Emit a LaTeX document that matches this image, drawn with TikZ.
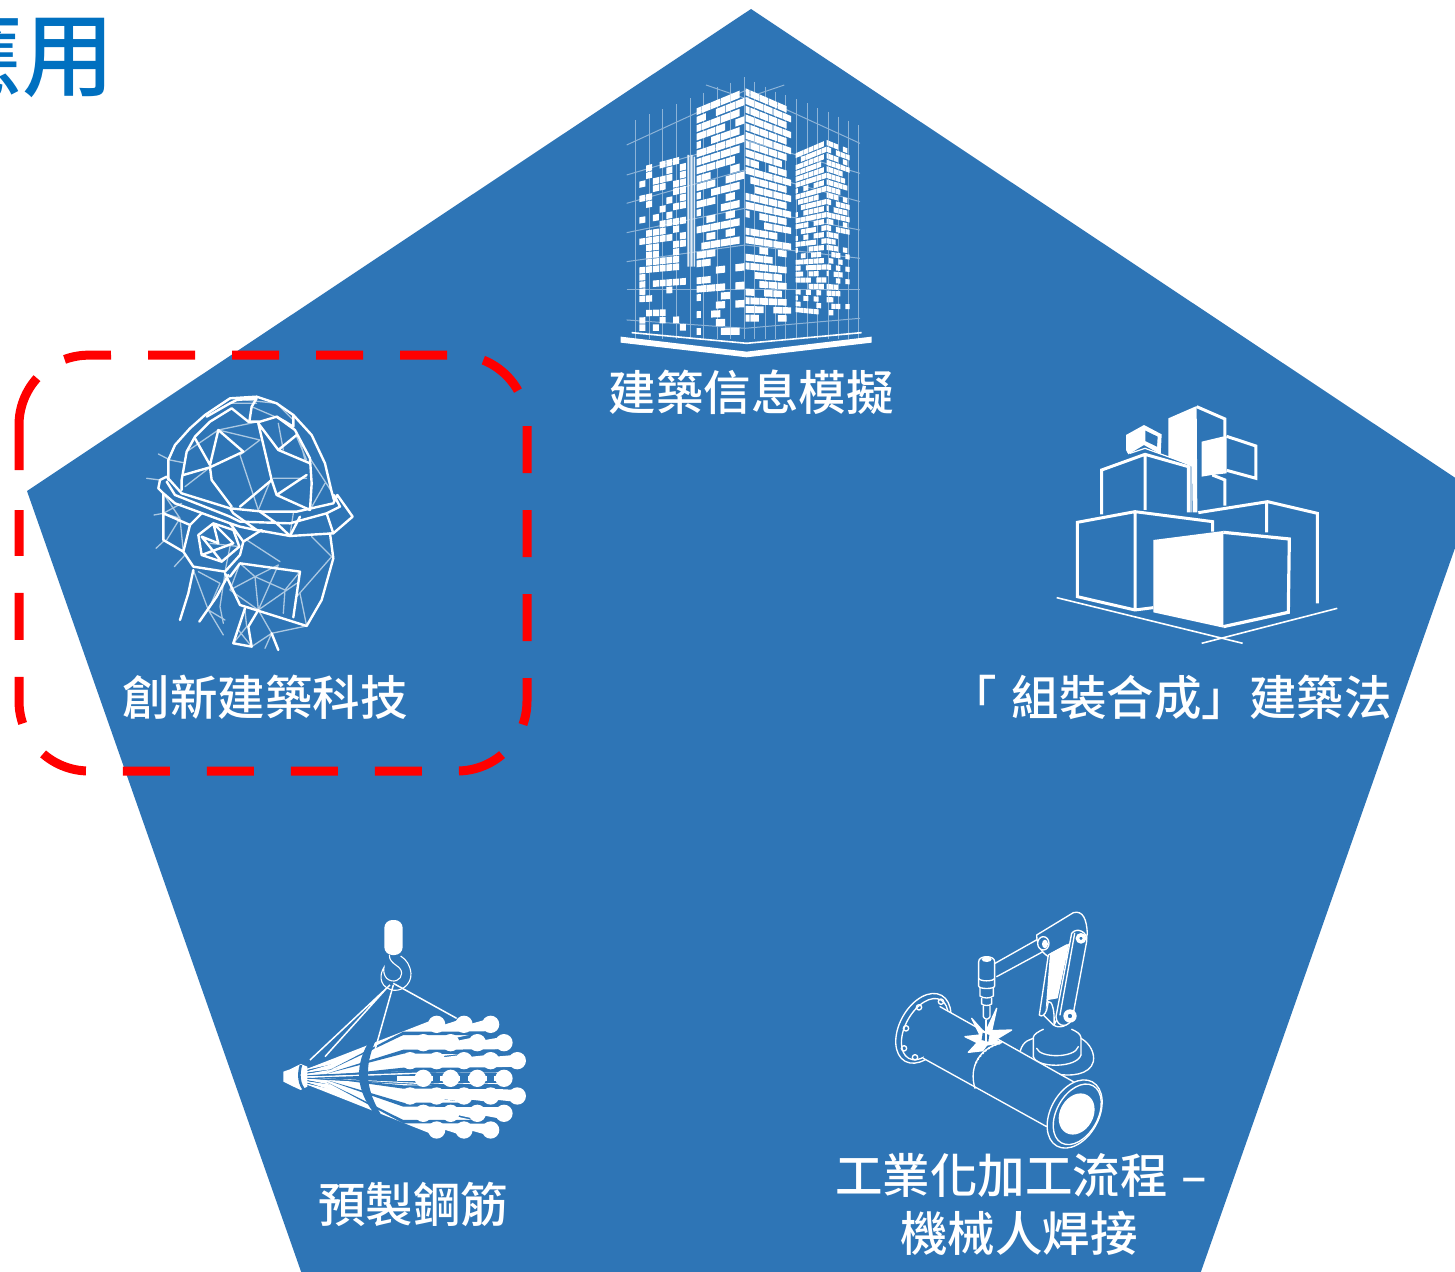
\documentclass[tikz,border=0pt]{standalone}
\usepackage{fontspec}
\newfontfamily\cjk{Noto Sans CJK TC Medium}
\newfontfamily\cjkm{Noto Sans CJK TC Medium}
\definecolor{penta}{RGB}{46,117,182}
\definecolor{titleblue}{RGB}{0,112,192}
\tikzset{
  lab/.style={text=white,font=\cjkm\fontsize{47.5}{50}\selectfont,inner sep=0pt,anchor=center},
  hm/.style={draw=white,line width=2.4pt,line join=round,line cap=round},
  hm2/.style={draw=white!60!penta,line width=1.3pt,line join=round,line cap=round},
  ln/.style={draw=white,line width=#1,line join=miter,line cap=butt},
  ln/.default=3pt,
  rb/.style={draw=white,line width=1.35pt,line join=round,line cap=round},
  gridl/.style={draw=white!45!penta,line width=1pt},
  redframe/.style={draw=red,line width=9pt}
}
\pgfmathsetseed{4711}
\def\wR{10}\def\wC{5}\def\wD{.8}\def\wE{.5}\def\wG{.05}\def\wH{.2}
\def\wface(#1,#2)(#3,#4)(#5,#6)(#7,#8){%
  \def\wpt##1##2{({(1-(##2))*((1-(##1))*#1+(##1)*#3)+(##2)*((1-(##1))*#5+(##1)*#7)},{(1-(##2))*((1-(##1))*#2+(##1)*#4)+(##2)*((1-(##1))*#6+(##1)*#8)})}%
  \foreach \r in {1,...,\wR}{%
    \pgfmathsetmacro\vA{(\r-1)/\wR}%
    \pgfmathsetmacro\vB{(\r-\wH)/\wR}%
    \pgfmathsetmacro\dd{\wD+(\wE-\wD)*\vA}%
    \pgfmathsetmacro\off{mod(\r,2)*\wO}%
    \foreach \c in {1,...,\wC}{%
      \pgfmathsetmacro\pp{rnd}%
      \ifdim\pp pt<\dd pt\relax
        \pgfmathsetmacro\uA{max(0,(\c-1-\off)/\wC)}%
        \pgfmathsetmacro\uB{min(1,(\c-\off-\wG)/\wC)}%
        \fill[white] \wpt{\uA}{\vA} -- \wpt{\uB}{\vA} -- \wpt{\uB}{\vB} -- \wpt{\uA}{\vB} -- cycle;%
      \fi
    }%
  }%
}
\begin{document}
\begin{tikzpicture}[x=1pt,y=-1pt]
\useasboundingbox (0,0) rectangle (1455,1271);
\fill[white] (0,0) rectangle (1455,1271);
\clip (0,0) rectangle (1455,1271);
% pentagon
\fill[penta] (751,9) -- (1475,491) -- (1194.5,1290) -- (307.5,1290) -- (27,491) -- cycle;
% title fragment
\node[text=titleblue,font=\cjk\fontsize{92}{96}\selectfont,inner sep=0pt,anchor=east] (title) at (115,54) {應用};
% ---------- building icon
\begin{scope}[shift={(600,60)},x=.3333pt,y=-.3333pt]
  \foreach \xx/\yt in {107/180,148/162,188/148,230/132,270/115,312/98,353/82,393/68,435/52,465/65,497/80,528/95,558/105,590/118,622/130,653/145,685/155,715/170,745/182,777/195}
    \draw[gridl] (\xx,\yt) -- (\xx,838);
  \foreach \ya/\yb in {255/92,345/240,430/330,518/445,605/555,690/690,780/805}
    \draw[gridl] (80,\ya) -- (435,\yb);
  \foreach \ya/\yb in {250/92,340/240,425/330,510/445,595/555,690/690,775/805}
    \draw[gridl] (780,\ya) -- (435,\yb);
  \draw[gridl] (318,75) -- (435,115) -- (553,75);
  \fill[white!85!penta] (262,285) rectangle (268,620) (272,285) rectangle (278,620) (281,290) rectangle (285,620);
  \pgfmathsetseed{4711}
  \def\wO{0}\def\wG{.12}\def\wH{.12}
  \def\wR{23}\def\wC{7}\def\wD{.68}\def\wE{.42}
  \wface(118,322)(260,285)(118,815)(260,815)
  \def\wO{.5}\def\wG{.06}\def\wH{.2}
  \def\wR{27}\def\wC{5}\def\wD{.95}\def\wE{.38}
  \wface(290,145)(435,85)(290,830)(435,830)
  \def\wR{27}\def\wC{5}\def\wD{.95}\def\wE{.75}
  \wface(437,85)(575,145)(437,790)(575,790)
  \def\wR{27}\def\wC{6}\def\wD{.95}\def\wE{.65}
  \wface(587,280)(680,240)(587,760)(680,770)
  \def\wR{27}\def\wC{5}\def\wD{.95}\def\wE{.6}
  \wface(680,240)(750,268)(680,770)(750,770)
  \draw[white,line width=1.6pt] (95,818) -- (440,850) -- (785,818);
  \fill[white] (62,830) -- (440,875) -- (815,830) -- (815,848) -- (440,892) -- (62,848) -- cycle;
\end{scope}
\node[lab] (l1) at (751,392) {建築信息模擬};
% ---------- helmet icon
\begin{scope}[shift={(130,380)},x=.3333pt,y=-.3333pt]
  % thin lines
  \draw[hm2] (85,222)--(120,240)--(160,248) (50,295)--(90,300) (72,405)--(100,400) (78,505)--(105,480) (133,560)--(165,525);
  \draw[hm2] (170,215)--(265,150)--(390,180)--(330,225)--(385,390) (265,150)--(385,125) (165,320)--(240,262);
  \draw[hm2] (385,390)--(420,305) (345,60)--(440,70)--(490,120) (365,80)--(470,125) (300,70)--(380,70);
  \draw[hm2] (445,130)--(460,210) (500,170)--(530,240) (540,235)--(605,335) (510,180)--(525,240) (540,390)--(585,310) (430,295)--(530,295);
  \draw[hm2] (100,400)--(150,415)--(110,480) (150,415)--(160,515) (100,340)--(150,415) (155,370)--(100,400);
  \draw[hm2] (350,480)--(450,545) (545,470)--(605,530)--(500,650);
  \draw[hm2] (330,550)--(300,630)--(375,590)--(385,690) (375,590)--(445,555)--(385,690) (330,550)--(375,590)--(465,630)--(510,575) (300,630)--(385,690) (385,690)--(500,610) (465,630)--(460,700) (510,640)--(530,738);
  \draw[hm2] (190,570)--(235,690)--(280,765) (205,575)--(270,610)--(235,690) (285,580)--(270,680)--(280,730) (235,690)--(285,720);
  \draw[hm2] (345,690)--(350,740)--(310,790) (325,750)--(365,800) (385,690)--(425,760)--(530,738) (425,760)--(365,800) (425,760)--(405,805) (240,490)--(330,500) (285,575)--(300,500);
  \draw[hm2] (590,400)--(610,460) (490,400)--(480,465);
  % main lines
  \draw[hm] (115,300)--(115,240)--(135,195)--(180,145)--(225,105)--(300,55)--(380,50)--(440,70)--(490,105)--(545,165)--(585,250)--(605,335)--(612,360);
  \draw[hm] (155,330)--(155,300)--(170,215)--(195,170)--(240,125)--(305,85)--(355,125)--(390,125)--(440,110)--(495,150)--(540,235)--(545,310)--(540,390);
  \draw[hm] (230,110)--(300,70)--(320,60)--(380,55)--(365,80)--(358,125) (440,110)--(490,140)--(490,105);
  \draw[hm] (195,175)--(240,255)--(265,150)--(340,215)--(240,262)--(160,285) (240,262)--(245,300)--(305,380) (385,130)--(425,300)--(330,380) (425,300)--(440,345)--(540,390) (440,345)--(530,285) (385,130)--(445,210)--(500,165) (445,210)--(540,250);
  \draw[hm] (110,290)--(90,300)--(85,325)--(100,340)--(135,370)--(300,430)--(330,440)--(400,455) (110,290)--(155,340)--(300,385)--(400,395)--(500,395)--(610,370)--(622,345)--(668,410)--(610,460)--(480,468)--(380,450)--(310,400)--(300,385);
  \draw[hm] (110,305)--(135,345)--(300,410)--(330,425)--(480,430)--(590,400)--(630,380)--(612,345) (390,395)--(440,430)--(480,468)--(510,410) (590,400)--(610,460);
  \draw[hm] (100,340)--(100,480)--(160,515)--(190,560)--(285,575)--(330,525)--(340,485)--(395,450) (100,400)--(180,435)--(160,515) (180,435)--(215,400) (300,430)--(340,485);
  \draw[hm] (205,465)--(250,430)--(310,450)--(328,500)--(275,545)--(215,525)--cycle (215,470)--(275,545) (215,525)--(310,490)--(250,430)--(265,490)--(215,470);
  \draw[hm] (285,580)--(330,675)--(530,738)--(575,660)--(610,535)--(600,460) (330,550)--(510,575)--(490,712) (330,550)--(300,590);
  \draw[hm] (190,570)--(175,640)--(150,720) (295,585)--(260,650)--(208,725) (345,685)--(310,790)--(365,800)--(355,740)--(385,690) (425,760)--(445,810);
\end{scope}
\node[lab] (l2) at (265,697) {創新建築科技};
% ---------- cubes icon
\begin{scope}[shift={(1040,395)},x=.3333pt,y=-.3333pt]
  \draw[white,line width=1.6pt] (50,608)--(608,745) (485,745)--(892,640);
  \fill[white] (385,70)--(470,33)--(472,352)--(458,352)--(456,215)--(385,185)--cycle;
  \draw[ln=3pt] (470,35)--(555,72)--(555,125) (517,240)--(555,255)--(555,332);
  \fill[white] (485,140)--(560,122)--(560,235)--(515,240)--(485,245)--cycle;
  \draw[ln=3pt] (560,124)--(648,153)--(648,250)--(560,226);
  \fill[white] (258,120)--(312,90)--(365,118)--(362,178)--(312,150)--(265,178)--(258,165)--cycle;
  \fill[penta] (316,107)--(353,125)--(351,155)--(316,138)--cycle;
  \draw[ln=3pt] (185,358)--(185,225)--(315,178)--(445,215)--(445,352) (315,178)--(315,345);
  \draw[ln=1.2pt] (270,175)--(315,160)--(453,210)--(453,352);
  \draw[ln=3pt] (518,410)--(518,380)--(285,350)--(112,382)--(112,605)--(285,645)--(340,638) (285,350)--(285,645);
  \draw[ln=3pt] (475,353)--(683,320)--(832,355)--(832,625) (680,322)--(680,412);
  \fill[white] (340,435)--(550,408)--(550,698)--(340,652)--cycle;
  \draw[ln=3.2pt] (550,412)--(748,432)--(745,652)--(550,695);
\end{scope}
\node[lab,anchor=east] (l3) at (1392,697) {「\hspace{15pt}組裝合成」建築法};
% ---------- rebar icon
\begin{scope}[shift={(270,910)},x=.3333pt,y=-.3333pt]
  \foreach \cx/\cy in {500/343,582/343,662/343,460/398,542/398,622/398,702/398,420/452,500/452,582/452,662/452,742/452,460/505,542/505,622/505,702/505,420/558,500/558,582/558,662/558,742/558,460/610,542/610,622/610,702/610,500/660,582/660,662/660}{
    \pgfmathsetmacro\ap{500+(\cy-500)*.14}
    \fill[white] (110,\ap-1) -- (\cx,\cy-18) -- (\cx,\cy+18) -- (110,\ap+1) -- cycle;
  }
  % gaps between the rows of bars
  \foreach \gy/\gh in {370/6,425/7,478/6,531/6,584/7,635/6}{
    \pgfmathsetmacro\ap{500+(\gy-500)*.12}
    \fill[penta] (170,\ap) -- (400,\gy-\gh+1) -- (760,\gy-\gh) -- (760,\gy+\gh) -- (400,\gy+\gh-1) -- cycle;
  }
  \fill[penta] (130,503) -- (440,492) -- (440,518) -- cycle;
  \fill[penta] (470,490) rectangle (760,520);
  \foreach \cx/\cy in {460/505,542/505,622/505,702/505}
    \fill[white] (\cx-80,\cy-8) rectangle (\cx,\cy+8);
  \foreach \gx/\gy in {500/505,582/505,662/505}
    \fill[penta] (\gx-11,\gy-13) rectangle (\gx+11,\gy+13);
  \foreach \cx/\cy in {500/343,582/343,662/343,460/398,542/398,622/398,702/398,420/452,500/452,582/452,662/452,742/452,460/505,542/505,622/505,702/505,420/558,500/558,582/558,662/558,742/558,460/610,542/610,622/610,702/610,500/660,582/660,662/660}
    \fill[white] (\cx,\cy) circle (26);
  \fill[white] (40,485) -- (60,478) -- (92,462) -- (112,470) -- (112,530) -- (92,540) -- (60,525) -- (40,515) -- cycle;
  \draw[penta,line width=2.6pt] (93,465) .. controls (85,490) and (85,525) .. (108,545);
  \fill[penta] (300,390) .. controls (255,460) and (250,540) .. (325,625) -- (340,625) .. controls (285,540) and (280,470) .. (320,385) -- cycle;
  \draw[white,line width=1.5pt] (360,225)--(120,450) (345,240)--(165,440) (370,225)--(315,420) (370,220)--(560,325);
  \draw[white,line width=1.1pt] (358,135) .. controls (358,165) and (395,165) .. (395,190) .. controls (395,210) and (370,222) .. (350,205) .. controls (342,195) and (340,185) .. (342,172) .. controls (330,190) and (325,225) .. (360,238) .. controls (390,250) and (425,225) .. (423,190) .. controls (420,165) and (410,150) .. (392,138);
  \fill[white,rounded corners=8pt] (343,30) rectangle (398,135);
\end{scope}
\node[lab] (l4) at (413,1204) {預製鋼筋};
% ---------- robot icon
\begin{scope}[shift={(880,900)},x=.3333pt,y=-.3333pt]
  % base
  \draw[rb] (420,455) .. controls (430,420) and (450,420) .. (460,415) (603,415) .. controls (630,430) and (645,460) .. (640,485) .. controls (630,525) and (570,530) .. (530,522);
  \draw[rb] (460,470) .. controls (470,505) and (590,505) .. (603,465);
  \draw[rb] (460,470) -- (460,412) .. controls (462,402) and (475,395) .. (490,388) (603,465) -- (603,412) .. controls (600,400) and (590,395) .. (575,388);
  \draw[rb] (470,445) .. controls (480,475) and (585,475) .. (595,440);
  % left flange
  \draw[rb,fill=penta,rotate around={-29:(130,385)}] (130,385) ellipse (71 and 113);
  \draw[rb,rotate around={-29:(130,385)}] (135,385) ellipse (58 and 100);
  \foreach \bx/\by in {117/322,183/305,78/385,72/445,105/472}
    \draw[rb] (\bx,\by) circle (8);
  % pipe
  \fill[penta] (180,320)--(580,545)--(500,680)--(130,475)--cycle;
  \draw[rb] (180,320)--(580,545) (130,475)--(500,680);
  % right flange
  \draw[rb,fill=penta,rotate around={-29:(584,642)}] (584,642) ellipse (72 and 110);
  \draw[rb,rotate around={-29:(590,642)}] (592,642) ellipse (62 and 98);
  \fill[white,rotate around={-29:(590,642)}] (590,642) ellipse (50 and 65);
  % seam
  \draw[rb] (360,430) .. controls (300,445) and (265,500) .. (285,565);
  \draw[white,line width=1.8pt,dotted] (360,430) .. controls (320,440) and (295,470) .. (285,495);
  % spark
  \draw[rb,fill=white] (350,325)--(335,392)--(395,390)--(345,420)--(365,428)--(320,435)--(308,452)--(265,457)--(292,428)--(255,410)--(300,405)--(275,355)--(315,400)--cycle;
  \fill[penta] (308,398)--(328,405)--(325,425)--(305,420)--cycle;
  % torch
  \draw[rb,fill=penta] (296,185) .. controls (296,165) and (344,165) .. (344,185) -- (344,258) .. controls (344,268) and (296,268) .. (296,258) -- cycle;
  \fill[white] (320,178) ellipse (15 and 8);
  \draw[rb] (296,235) .. controls (300,245) and (340,245) .. (344,235);
  \draw[rb] (300,265)--(300,288) .. controls (310,296) and (330,296) .. (340,288)--(340,265);
  \draw[rb] (305,295)--(305,312) .. controls (312,318) and (328,318) .. (335,312)--(335,295);
  \draw[rb] (310,318)--(310,350) .. controls (315,360) and (325,360) .. (330,350)--(330,318);
  \draw[rb] (318,360)--(318,425);
  \draw[rb] (345,190)--(478,115) (350,230)--(498,150);
  % arm
  \draw[rb,fill=penta] (470,105) -- (580,38) .. controls (610,30) and (620,60) .. (622,100) -- (578,345) .. controls (565,385) and (535,385) .. (520,375) -- (490,345) -- (505,170) .. controls (490,160) and (470,140) .. (470,105) -- cycle;
  \draw[rb,fill=penta] (505,165) -- (478,345) .. controls (485,352) and (495,345) .. (500,330) -- (505,305) .. controls (515,300) and (525,330) .. (522,375) -- (560,300) -- (560,135) -- cycle;
  \fill[white] (510,160)--(568,130)--(533,295)--(505,300)--(497,330)--cycle;
  \draw[rb,fill=penta] (575,100) .. controls (590,80) and (625,95) .. (620,125) -- (578,350) .. controls (570,385) and (530,385) .. (528,350) -- cycle;
  \draw[rb] (584,100) -- (540,345);
  \draw[rb,fill=penta] (490,130) ellipse (17 and 20);
  \fill[white] (495,132) ellipse (9 and 13);
  \draw[rb,fill=white] (603,115) circle (14);
  \draw[rb,fill=penta] (603,115) circle (7);
  \draw[rb,fill=white] (570,348) circle (18);
  \draw[rb,fill=penta] (570,348) circle (9);
\end{scope}
\node[lab,anchor=west] (l5) at (835,1175) {工業化加工流程\hspace{3pt} –};
\node[lab] (l6) at (1019,1233) {機械人焊接};
% ---------- red dashed frame
\draw[redframe,dash pattern=on 47pt off 37pt] (148,355) -- (457,355) arc[start angle=90,end angle=0,x radius=70,y radius=-70] -- (527,701) arc[start angle=0,end angle=-90,x radius=70,y radius=-70] -- (89,771) arc[start angle=-90,end angle=-180,x radius=70,y radius=-70] -- (19,510);
\draw[redframe] (19,470) -- (19,425) arc[start angle=180,end angle=138,x radius=70,y radius=-70];
\draw[redframe] (64.6,359.4) arc[start angle=110,end angle=90,x radius=70,y radius=-70] -- (111,355);
\end{tikzpicture}
\end{document}
